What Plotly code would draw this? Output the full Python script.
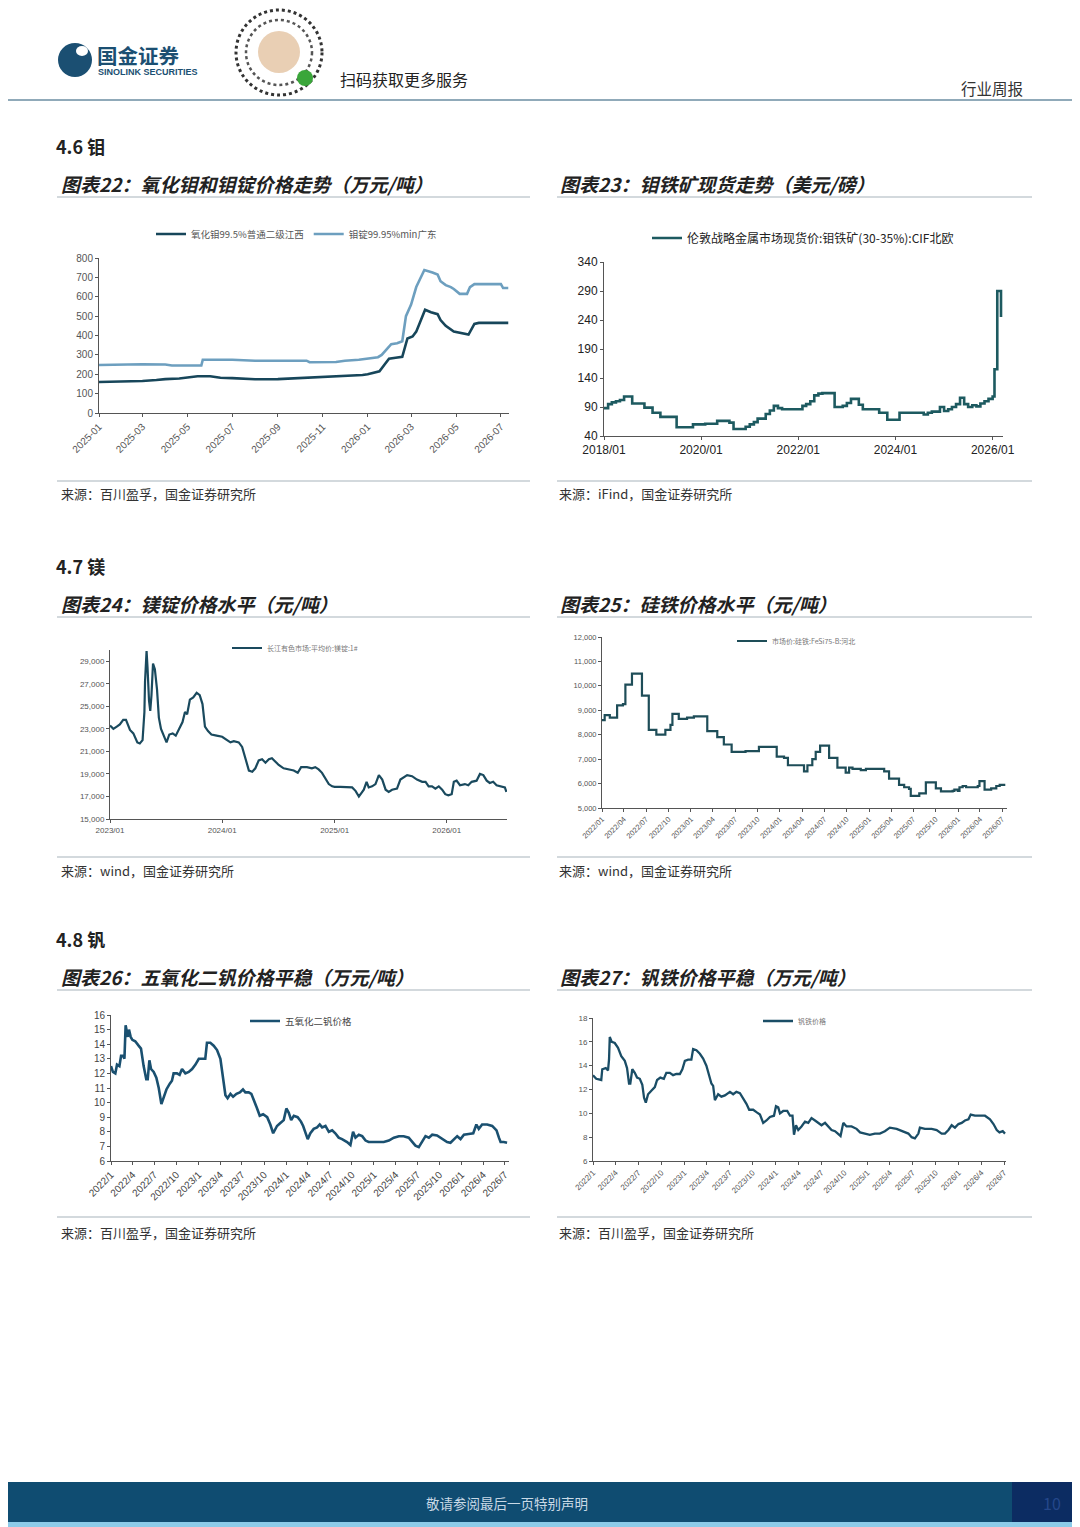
import plotly.graph_objects as go
import pandas as pd

# page is rendered with an 8px body margin, so the figure covers page pixels 8..1080 / 8..1527
OFF = 8
W, H = 1080 - OFF, 1527 - OFF
def X(px): return (px - OFF) / W
def Y(py): return 1 - (py - OFF) / H

# ---------------- data ----------------
# 图表22 氧化钼 / 钼锭
c22_dates_mo = ["2025-01-01","2025-02-01","2025-03-01","2025-03-20","2025-04-01","2025-04-20","2025-05-01","2025-05-15",
                "2025-06-01","2025-06-15","2025-07-01","2025-07-20","2025-08-01","2025-09-01","2025-10-01","2025-10-20",
                "2025-11-01","2025-11-20","2025-12-01","2025-12-25",
                "2026-01-01","2026-01-17","2026-01-24","2026-01-30","2026-02-08","2026-02-17","2026-02-24","2026-03-03",
                "2026-03-08","2026-03-14","2026-03-20","2026-03-28","2026-04-06","2026-04-10","2026-04-17","2026-04-28",
                "2026-05-10","2026-05-18","2026-05-26","2026-06-01","2026-07-11"]
c22_vals_mo = [160,162,165,170,175,178,185,190,190,182,180,176,174,175,180,183,185,190,192,196,
               200,215,250,280,285,290,385,395,420,480,533,520,510,480,450,420,410,405,460,465,465]
c22_dates_ingot = ["2025-01-01","2025-02-01","2025-03-01","2025-04-01","2025-04-10","2025-05-20","2025-05-22","2025-07-01",
                   "2025-08-01","2025-10-10","2025-10-14","2025-11-19","2025-12-01","2025-12-20",
                   "2026-01-01","2026-01-15","2026-01-20","2026-01-27","2026-02-02","2026-02-10","2026-02-17","2026-02-22",
                   "2026-03-01","2026-03-08","2026-03-19","2026-03-30","2026-04-06","2026-04-10","2026-04-17","2026-04-24",
                   "2026-04-28","2026-05-06","2026-05-16","2026-05-20","2026-05-26","2026-07-01","2026-07-04","2026-07-11"]
c22_vals_ingot = [248,250,252,250,245,245,275,275,270,270,262,263,270,275,
                  280,288,300,330,355,360,370,500,560,650,738,725,715,680,660,650,640,615,615,650,665,665,645,645]
c22_names = ["氧化钼99.5%普通二级江西", "钼锭99.95%min广东"]

# 图表23 钼铁矿 CIF 北欧 (monthly, 2018-01 .. 2025-12, then tail)
c23_vals_monthly = [88,95,98,100,102,108,108,96,96,96,89,89,
                    80,80,73,73,73,73,55,55,55,55,60,60,
                    60,61,61,61,66,66,66,63,52,52,52,56,
                    60,64,70,70,78,84,92,88,86,86,86,86,
                    86,92,95,100,110,113,114,114,114,90,90,92,
                    97,104,104,94,86,86,86,86,80,80,68,68,
                    68,80,80,80,80,80,80,77,80,82,82,90,
                    83,86,90,95,106,95,90,93,91,96,100,104]
c23_tail_dates = ["2026-01-01","2026-01-15","2026-02-05","2026-03-05"]
c23_tail_vals = [108,155,290,245]
c23_name = "伦敦战略金属市场现货价:钼铁矿(30-35%):CIF北欧"

# 图表24 镁锭
c24_dates = ["2023-01-01","2023-01-12","2023-01-23","2023-02-02","2023-02-13","2023-02-22","2023-03-07","2023-03-18",
             "2023-03-31","2023-04-08","2023-04-17","2023-04-23","2023-04-25","2023-04-30","2023-05-03","2023-05-08",
             "2023-05-12","2023-05-16","2023-05-21","2023-05-27","2023-06-03","2023-06-09","2023-06-16","2023-06-25",
             "2023-07-04","2023-07-13","2023-07-24","2023-08-03","2023-08-14","2023-08-25","2023-09-02","2023-09-09",
             "2023-09-18","2023-09-29","2023-10-10","2023-10-20","2023-10-29","2023-11-06","2023-11-16","2023-11-27",
             "2023-12-14","2024-01-01","2024-01-17","2024-01-28","2024-02-08","2024-02-24","2024-03-06","2024-03-17",
             "2024-03-28","2024-04-08","2024-04-18","2024-04-29","2024-05-10","2024-05-21","2024-06-01","2024-06-11",
             "2024-06-22","2024-07-03","2024-07-19","2024-08-04","2024-08-21","2024-09-03","2024-09-14","2024-10-03",
             "2024-10-19","2024-10-30","2024-11-10","2024-11-21","2024-12-02","2024-12-13","2024-12-24","2025-01-01",
             "2025-01-20","2025-02-11","2025-02-27","2025-03-10","2025-03-21","2025-03-29","2025-04-06","2025-04-15",
             "2025-04-22","2025-05-03","2025-05-14","2025-05-25","2025-06-05","2025-06-16","2025-06-26","2025-07-07",
             "2025-07-23","2025-08-03","2025-08-14","2025-08-25","2025-09-10","2025-09-26","2025-10-13","2025-10-24",
             "2025-11-03","2025-11-14","2025-11-25","2025-12-06","2025-12-17","2025-12-27","2026-01-06","2026-01-17",
             "2026-01-24","2026-02-02","2026-02-13","2026-03-01","2026-03-12","2026-03-23","2026-04-08","2026-04-19",
             "2026-04-30","2026-05-11","2026-05-21","2026-06-01","2026-06-12","2026-06-28","2026-07-09","2026-07-14"]
c24_vals = [23300,23000,23200,23400,23800,23800,22900,22600,
            21800,21700,22000,24500,27200,29900,28500,25500,
            24600,26000,28800,28300,26500,24000,23000,22300,
            21800,22500,22600,22400,23000,23600,24500,24300,
            25600,25800,26200,26000,25200,23200,22800,22500,
            22400,22300,22000,21800,21900,21800,21400,20300,
            19300,19200,19500,20200,20300,20000,20300,20400,
            20100,19800,19500,19400,19300,19100,19600,19600,
            19500,19600,19400,19100,18600,18100,17900,17850,
            17850,17850,17800,17500,17000,17300,17600,18300,
            17800,17900,18100,18900,18500,17600,17400,17600,
            17700,18500,18700,18900,18800,18500,18300,18300,
            17900,17900,17700,17900,17600,17200,17100,17200,
            18300,18400,18000,18100,18000,18300,18400,19000,
            18900,18400,18200,18300,18000,17900,17800,17400]
c24_name = "长江有色市场:平均价:镁锭:1#"

# 图表25 硅铁
c25_dates = ["2022-01-01","2022-01-12","2022-02-02","2022-03-04","2022-03-28","2022-04-07","2022-05-04","2022-06-14",
             "2022-07-12","2022-08-12","2022-09-18","2022-10-09","2022-10-17","2022-11-12","2022-12-16","2023-01-13",
             "2023-03-09","2023-04-19","2023-05-16","2023-06-17","2023-08-13","2023-10-07","2023-12-19","2024-01-18",
             "2024-02-03","2024-04-09","2024-04-23","2024-05-13","2024-05-27","2024-06-14","2024-07-21","2024-08-24",
             "2024-09-27","2024-10-11","2024-10-25","2024-11-28","2024-12-19","2025-03-04","2025-03-24","2025-05-04",
             "2025-05-25","2025-06-14","2025-06-21","2025-07-26","2025-08-22","2025-10-02","2025-10-23","2025-12-10",
             "2025-12-17","2025-12-31","2026-01-07","2026-01-20","2026-02-03","2026-03-23","2026-03-30","2026-04-20",
             "2026-05-17","2026-06-07","2026-06-21","2026-07-14"]
c25_vals = [8600,8800,8700,9200,9250,10050,10500,9600,
            8200,8000,8200,8400,8850,8650,8700,8750,
            8150,7900,7600,7300,7330,7500,7100,7050,
            6750,6500,6750,7000,7300,7550,7050,6650,
            6450,6650,6600,6550,6600,6500,6200,5950,
            5850,5780,5500,5600,6050,5800,5680,5700,
            5750,5700,5850,5900,5850,5900,6100,5750,
            5800,5900,5950,5950]
c25_name = "市场价:硅铁:FeSi75-B:河北"

# 图表26 五氧化二钒
c26_dates = ["2022-01-01","2022-01-09","2022-01-19","2022-01-26","2022-02-05","2022-02-12","2022-02-20","2022-02-26",
             "2022-03-03","2022-03-12","2022-03-17","2022-03-24","2022-03-31","2022-04-12","2022-04-26","2022-05-06",
             "2022-05-17","2022-05-28","2022-06-03","2022-06-10","2022-06-17","2022-06-28","2022-07-09","2022-07-19",
             "2022-07-30","2022-08-09","2022-08-20","2022-09-03","2022-09-12","2022-09-19","2022-10-03","2022-10-14",
             "2022-10-24","2022-11-07","2022-11-21","2022-12-05","2022-12-19","2023-01-02","2023-01-15","2023-01-29",
             "2023-02-05","2023-02-19","2023-03-05","2023-03-19","2023-04-02","2023-04-13","2023-04-23","2023-05-02",
             "2023-05-14","2023-05-25","2023-06-08","2023-06-22","2023-07-05","2023-07-15","2023-07-29","2023-08-09",
             "2023-08-22","2023-09-02","2023-09-13","2023-09-27","2023-10-14","2023-10-27","2023-11-08","2023-11-24",
             "2023-12-08","2023-12-22","2024-01-02","2024-01-12","2024-01-22","2024-02-02","2024-02-18","2024-03-03",
             "2024-03-12","2024-03-21","2024-03-31","2024-04-11","2024-04-25","2024-05-09","2024-05-20","2024-05-30",
             "2024-06-13","2024-06-27","2024-07-11","2024-07-24","2024-08-07","2024-08-21","2024-09-11","2024-09-25",
             "2024-10-06","2024-10-16","2024-10-30","2024-11-13","2024-11-27","2024-12-10","2024-12-24","2025-01-14",
             "2025-02-11","2025-03-04","2025-03-25","2025-04-15","2025-05-05","2025-05-26","2025-06-09","2025-06-23",
             "2025-07-07","2025-07-21","2025-08-04","2025-08-18","2025-09-01","2025-09-21","2025-10-12","2025-11-02",
             "2025-11-16","2025-11-30","2025-12-14","2025-12-28","2026-01-11","2026-01-31","2026-02-19","2026-03-04",
             "2026-03-14","2026-03-28","2026-04-18","2026-05-09","2026-05-27","2026-06-06","2026-06-13","2026-06-26",
             "2026-07-10"]
c26_vals = [12.5,12.1,12.0,12.6,12.5,13.2,13.2,13.0,
            15.3,14.5,15.0,14.5,14.3,14.2,13.9,13.7,
            12.5,11.6,11.6,12.9,12.3,12.1,11.7,11.0,
            9.9,10.4,10.9,11.3,11.5,12.0,12.0,11.9,
            12.3,12.0,12.1,12.3,12.6,13.0,13.0,13.0,
            14.1,14.1,13.9,13.6,13.0,11.5,10.5,10.3,
            10.6,10.4,10.6,10.7,10.9,10.7,10.7,10.6,
            10.1,9.6,9.1,9.2,9.0,8.5,7.9,8.4,
            8.6,8.8,9.6,9.3,8.8,9.1,9.0,8.7,
            8.4,8.0,7.5,7.9,8.2,8.3,8.5,8.3,
            8.4,8.0,8.1,7.9,7.6,7.5,7.3,7.1,
            8.0,7.6,7.8,7.7,7.4,7.3,7.3,7.25,
            7.3,7.4,7.6,7.7,7.7,7.6,7.3,7.05,
            6.95,7.3,7.7,7.6,7.8,7.75,7.5,7.3,
            7.25,7.5,7.7,7.5,7.8,7.85,7.9,8.5,
            8.2,8.5,8.5,8.4,8.1,7.6,7.3,7.3,
            7.25]
c26_name = "五氧化二钒价格"

# 图表27 钒铁
c27_dates = ["2022-01-01","2022-01-14","2022-02-03","2022-02-07","2022-02-21","2022-03-02","2022-03-06","2022-03-09",
             "2022-03-17","2022-03-29","2022-04-11","2022-04-24","2022-05-08","2022-05-17","2022-05-25","2022-05-30",
             "2022-06-07","2022-06-17","2022-06-26","2022-07-07","2022-07-17","2022-07-24","2022-07-31","2022-08-09",
             "2022-08-22","2022-09-05","2022-09-14","2022-09-27","2022-10-11","2022-10-21","2022-11-04","2022-11-17",
             "2022-11-30","2022-12-14","2022-12-24","2023-01-03","2023-01-16","2023-01-29","2023-02-05","2023-02-18",
             "2023-03-04","2023-03-17","2023-03-30","2023-04-10","2023-04-19","2023-04-26","2023-05-03","2023-05-16",
             "2023-05-29","2023-06-12","2023-07-02","2023-07-15","2023-07-28","2023-08-11","2023-08-24","2023-09-06",
             "2023-09-17","2023-10-03","2023-10-16","2023-10-30","2023-11-12","2023-11-25","2023-12-09","2023-12-25",
             "2024-01-02","2024-01-11","2024-01-18","2024-01-31","2024-02-16","2024-02-27","2024-03-08","2024-03-14",
             "2024-03-22","2024-03-31","2024-04-13","2024-04-27","2024-05-10","2024-05-23","2024-06-06","2024-06-19",
             "2024-07-02","2024-07-16","2024-07-29","2024-08-11","2024-08-25","2024-09-07","2024-09-16","2024-09-27",
             "2024-10-10","2024-10-30","2024-11-19","2024-12-03","2024-12-22","2025-01-11","2025-01-31","2025-02-20",
             "2025-03-12","2025-04-01","2025-04-28","2025-05-25","2025-06-14","2025-06-27","2025-07-10","2025-07-24",
             "2025-07-30","2025-08-19","2025-09-15","2025-10-05","2025-10-25","2025-11-07","2025-11-21","2025-12-04",
             "2025-12-17","2025-12-31","2026-01-13","2026-01-26","2026-02-09","2026-02-18","2026-03-07","2026-03-27",
             "2026-04-16","2026-05-06","2026-05-20","2026-06-02","2026-06-13","2026-06-26","2026-07-05"]
c27_vals = [13.2,12.9,12.8,13.7,13.8,13.6,14.5,16.4,
            16.0,15.9,15.5,14.8,14.4,13.8,12.5,12.5,
            13.7,13.4,13.0,12.9,12.4,11.3,10.9,11.6,
            11.9,12.2,12.8,13.0,12.9,13.4,13.4,13.2,
            13.3,13.3,13.7,14.4,14.5,14.5,15.4,15.3,
            15.0,14.6,14.0,13.2,12.5,12.3,11.1,11.6,
            11.4,11.5,11.8,11.6,11.8,11.7,11.3,10.8,
            10.3,10.3,10.1,9.9,9.2,9.4,9.7,9.8,
            10.6,10.5,10.0,10.2,10.2,9.8,9.8,8.2,
            9.0,8.6,8.9,9.3,9.2,9.6,9.4,9.2,
            9.0,9.2,8.9,8.6,8.5,8.3,8.1,9.2,
            8.9,8.9,8.7,8.4,8.3,8.2,8.3,8.3,
            8.5,8.8,8.7,8.5,8.3,8.0,7.9,8.3,
            8.8,8.7,8.7,8.6,8.3,8.3,8.6,9.0,
            8.8,9.1,9.2,9.4,9.5,9.9,9.8,9.8,
            9.8,9.5,9.1,8.6,8.4,8.5,8.3]
c27_name = "钒铁价格"

# ---------------- figure ----------------
fig = go.Figure()
TICKFONT = "Liberation Sans, Arial, sans-serif"
CJK = "Noto Sans CJK SC"

def axes(n, x0, x1, ytop, ybot, xrange, yrange, xfmt, dtick_x, dtick_y, tick0_y, xangle,
         fsize, fcolor, yfmt="", xtick0=None):
    xs = "xaxis" if n == 1 else f"xaxis{n}"
    ys = "yaxis" if n == 1 else f"yaxis{n}"
    xr = "x" if n == 1 else f"x{n}"
    yr = "y" if n == 1 else f"y{n}"
    common = dict(showline=True, linecolor="#555", linewidth=1, ticks="outside", ticklen=3,
                  tickcolor="#555", showgrid=False, zeroline=False, automargin=False,
                  tickfont=dict(family=TICKFONT, size=fsize, color=fcolor))
    fig.update_layout(**{
        xs: dict(domain=[X(x0), X(x1)], anchor=yr, type="date", range=xrange, tickformat=xfmt,
                 dtick=dtick_x, tick0=xtick0 or xrange[0], tickangle=xangle, **common),
        ys: dict(domain=[Y(ybot), Y(ytop)], anchor=xr, range=yrange, dtick=dtick_y, tick0=tick0_y,
                 tickformat=yfmt, **common),
    })
    return xr, yr

# chart 22
xr, yr = axes(1, 99, 509, 258, 413, ["2025-01-01", "2026-07-12"], [0, 800], "%Y-%m", "M2", 100, 0, -45, 10, "#555")
fig.add_trace(go.Scatter(x=c22_dates_mo, y=c22_vals_mo, mode="lines", name=c22_names[0],
                         line=dict(color="#17465a", width=2.6), xaxis=xr, yaxis=yr, legend="legend"))
fig.add_trace(go.Scatter(x=c22_dates_ingot, y=c22_vals_ingot, mode="lines", name=c22_names[1],
                         line=dict(color="#6d9fbf", width=2.6), xaxis=xr, yaxis=yr, legend="legend"))

# chart 23
c23_dates = [d.strftime("%Y-%m-%d") for d in pd.date_range("2018-01-01", periods=len(c23_vals_monthly), freq="MS")] + c23_tail_dates
c23_vals = c23_vals_monthly + c23_tail_vals
xr, yr = axes(2, 604, 1003, 262, 436, ["2018-01-01", "2026-03-20"], [40, 340], "%Y/%m", "M24", 50, 40, 0, 12, "#222")
fig.add_trace(go.Scatter(x=c23_dates, y=c23_vals, mode="lines", name=c23_name, line_shape="hv",
                         line=dict(color="#1d5a60", width=2.6), xaxis=xr, yaxis=yr, legend="legend2"))

# chart 24
xr, yr = axes(3, 110, 507, 650, 819, ["2023-01-01", "2026-07-16"], [15000, 30000], "%Y/%m", "M12", 2000, 15000, 0, 8, "#555", ",d")
fig.add_trace(go.Scatter(x=c24_dates, y=c24_vals, mode="lines", name=c24_name,
                         line=dict(color="#1a4a5e", width=2.2), xaxis=xr, yaxis=yr, legend="legend3"))

# chart 25
xr, yr = axes(4, 602, 1007, 637, 808, ["2022-01-01", "2026-07-21"], [5000, 12000], "%Y/%m", "M3", 1000, 5000, -45, 7.5, "#555", ",d")
fig.add_trace(go.Scatter(x=c25_dates, y=c25_vals, mode="lines", name=c25_name, line_shape="hv",
                         line=dict(color="#1e4d58", width=2.2), xaxis=xr, yaxis=yr, legend="legend4"))

# chart 26
xr, yr = axes(5, 111, 509, 1015, 1161, ["2022-01-01", "2026-07-18"], [6, 16], "%Y/%-m", "M3", 1, 6, -45, 10, "#444")
fig.add_trace(go.Scatter(x=c26_dates, y=c26_vals, mode="lines", name=c26_name,
                         line=dict(color="#1a5070", width=2.6), xaxis=xr, yaxis=yr, legend="legend5"))

# chart 27
xr, yr = axes(6, 593, 1006, 1018, 1161, ["2022-01-01", "2026-07-09"], [6, 18], "%Y/%-m", "M3", 2, 6, -45, 8, "#555")
fig.add_trace(go.Scatter(x=c27_dates, y=c27_vals, mode="lines", name=c27_name,
                         line=dict(color="#1a4d66", width=2.3), xaxis=xr, yaxis=yr, legend="legend6"))

def legend(px, py, size, color="#444"):
    return dict(x=X(px), y=Y(py), xanchor="left", yanchor="middle", orientation="h",
                bgcolor="rgba(0,0,0,0)", font=dict(family=CJK, size=size, color=color),
                itemwidth=30, tracegroupgap=0)

fig.update_layout(
    legend=legend(151, 234, 9.5, "#555"),
    legend2=legend(647, 238, 12, "#222"),
    legend3=legend(227, 648, 7, "#777"),
    legend4=legend(732, 641, 7, "#777"),
    legend5=legend(245, 1021, 9.5, "#444"),
    legend6=legend(758, 1021, 7, "#777"),
)

# ---------------- page decoration ----------------
shapes = []
def hline(y, x0, x1, color, w):
    shapes.append(dict(type="line", xref="paper", yref="paper", x0=X(x0), x1=X(x1), y0=Y(y), y1=Y(y),
                       line=dict(color=color, width=w)))
def rect(x0, y0, x1, y1, fill, line=None, kind="rect", lw=0, dash="solid"):
    shapes.append(dict(type=kind, xref="paper", yref="paper", x0=X(x0), x1=X(x1), y0=Y(y1), y1=Y(y0),
                       fillcolor=fill, line=dict(color=line or fill, width=lw, dash=dash)))

hline(100, OFF, 1080, "#6b8ea2", 1.5)
for y in (197, 617, 990):
    hline(y, 57, 530, "#c4ccd2", 1.5)
    hline(y, 557, 1032, "#c4ccd2", 1.5)
for y in (481, 857, 1217):
    hline(y, 57, 530, "#c4ccd2", 1.5)
    hline(y, 557, 1032, "#c4ccd2", 1.5)

# logo
rect(58, 43, 92, 77, "#1b4f72", kind="circle")
rect(76, 46, 88, 56, "white", kind="circle")
# qr code approximation
rect(236, 10, 322, 95, "white", line="#333", kind="circle", lw=3, dash="dot")
rect(246, 20, 312, 85, "white", line="#555", kind="circle", lw=2.5, dash="dot")
rect(258, 31, 300, 73, "#e9cfb4", kind="circle")
rect(297, 70, 313, 86, "#3aa63a", kind="circle")
# footer
rect(OFF, 1482, 1080, 1522, "#0f4c71")
rect(1012, 1482, 1080, 1522, "#0c2c62")
rect(OFF, 1522, 1080, 1527, "#8ccbe9")

fig.update_layout(shapes=shapes)

def text(px, py, s, size, color="#222", bold=False, italic=False, family=CJK, anchor="left"):
    fig.add_annotation(x=X(px), y=Y(py), xref="paper", yref="paper", text=s, showarrow=False,
                       xanchor=anchor, yanchor="middle", borderpad=0,
                       font=dict(family=family, size=size, color=color, weight=700 if bold else 400,
                                 style="italic" if italic else "normal"))

text(96, 55, "国金证券", 20.5, "#1b4f72", bold=True)
text(97, 72, "SINOLINK SECURITIES", 9, "#1b4f72", bold=True, family="Liberation Sans, Arial")
text(339, 79, "扫码获取更多服务", 16, "#222")
text(1024, 88, "行业周报", 15.5, "#333", anchor="right")

text(55, 146, "4.6 钼", 18, bold=True)
text(60, 183, "图表22：氧化钼和钼锭价格走势（万元/吨）", 19, bold=True, italic=True)
text(559, 183, "图表23：钼铁矿现货走势（美元/磅）", 19, bold=True, italic=True)
text(60, 494, "来源：百川盈孚，国金证券研究所", 13, "#333")
text(558, 494, "来源：iFind，国金证券研究所", 13, "#333")

text(55, 566, "4.7 镁", 18, bold=True)
text(60, 603, "图表24：镁锭价格水平（元/吨）", 19, bold=True, italic=True)
text(559, 603, "图表25：硅铁价格水平（元/吨）", 19, bold=True, italic=True)
text(60, 870, "来源：wind，国金证券研究所", 13, "#333")
text(558, 870, "来源：wind，国金证券研究所", 13, "#333")

text(55, 939, "4.8 钒", 18, bold=True)
text(60, 976, "图表26：五氧化二钒价格平稳（万元/吨）", 19, bold=True, italic=True)
text(559, 976, "图表27：钒铁价格平稳（万元/吨）", 19, bold=True, italic=True)
text(60, 1232, "来源：百川盈孚，国金证券研究所", 13, "#333")
text(558, 1232, "来源：百川盈孚，国金证券研究所", 13, "#333")

text(507, 1503, "敬请参阅最后一页特别声明", 13.5, "#c9d9e6", anchor="center")
text(1052, 1503, "10", 16, "#24478a", anchor="center")

fig.update_layout(width=W, height=H, margin=dict(l=0, r=0, t=0, b=0, pad=0, autoexpand=False),
                  paper_bgcolor="white", plot_bgcolor="white", showlegend=True)

fig.write_html("out.html")
